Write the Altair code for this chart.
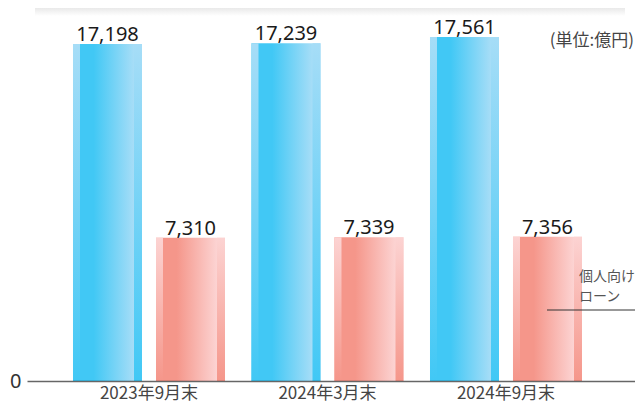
import altair as alt
import pandas as pd

periods = ["2023年9月末", "2024年3月末", "2024年9月末"]
total_values = [17198, 17239, 17561]
loan_values = [7310, 7339, 7356]
series_keys = ["total", "個人向けローン"]
annotation_lines = ["個人向け", "ローン"]
unit_text = "(単位:億円)"

rows = []
for p, t, l in zip(periods, total_values, loan_values):
    rows.append({"period": p, "series": series_keys[0], "value": t})
    rows.append({"period": p, "series": series_keys[1], "value": l})
df = pd.DataFrame(rows)
df["label"] = df["value"].map(lambda v: f"{v:,}")

BLUE, BLUE_L = "#41c8f5", "#a6ddf7"
PINK, PINK_L = "#f5968a", "#fcd3d2"


def hgrad(base, light):
    return alt.Gradient(gradient="linear", x1=0, y1=0, x2=1, y2=0, stops=[
        alt.GradientStop(offset=0, color=base),
        alt.GradientStop(offset=0.3, color=base),
        alt.GradientStop(offset=0.88, color=light),
        alt.GradientStop(offset=1, color=light)])


def vgrad(base, light):
    return alt.Gradient(gradient="linear", x1=0, y1=0, x2=0, y2=1, stops=[
        alt.GradientStop(offset=0, color=light),
        alt.GradientStop(offset=1, color=base)])


x_enc = alt.X("period:N", sort=periods, title=None,
              scale=alt.Scale(paddingInner=0, paddingOuter=0.2031, align=0.4517),
              axis=alt.Axis(labelAngle=0, ticks=False, labelPadding=4, labelFontSize=17,
                            labelBaseline="top",
                            labelFont="Noto Sans CJK JP", labelColor="#444",
                            domainColor="black", domainOpacity=0.6, domainWidth=1.6, zindex=1))
y_enc = alt.Y("value:Q", title=None, scale=alt.Scale(domain=[0, 19037], nice=False),
              axis=alt.Axis(values=[0], domain=False, ticks=False, grid=False,
                            labelFontSize=20, labelFont="Noto Sans", labelColor="#333",
                            labelPadding=6))

base = alt.Chart(df)
layers = []
for key, sign, col, light in [(series_keys[0], -1, BLUE, BLUE_L), (series_keys[1], 1, PINK, PINK_L)]:
    off = sign * 41.5
    b = base.transform_filter(alt.datum.series == key)
    layers.append(b.mark_bar(width=69, xOffset=off, color=hgrad(col, light)).encode(x=x_enc, y=y_enc))
    layers.append(b.mark_bar(width=7, xOffset=off - 31, color=vgrad(col, light)).encode(x=x_enc, y=y_enc))
    layers.append(b.mark_bar(width=8, xOffset=off + 30.5, color=vgrad(col, light)).encode(x=x_enc, y=y_enc))
    layers.append(b.mark_text(xOffset=off, dy=-3, baseline="alphabetic", fontSize=20,
                              font="Noto Sans", color="#1a1a1a").encode(x=x_enc, y=y_enc, text="label:N"))

annot = alt.Chart(pd.DataFrame({"k": [0]}))
shadow = annot.mark_rect(color=alt.Gradient(gradient="linear", x1=0, y1=0, x2=0, y2=1, stops=[
    alt.GradientStop(offset=0, color="#e9e9e9"), alt.GradientStop(offset=1, color="#ffffff")])).encode(
    x=alt.value(8), x2=alt.value(598), y=alt.value(0), y2=alt.value(8))
unit = annot.mark_text(align="right", baseline="middle", fontSize=17, font="Noto Sans CJK JP",
                       color="#444").encode(x=alt.value(607), y=alt.value(33), text=alt.value(unit_text))
legend_text = annot.mark_text(align="left", baseline="top", fontSize=14, lineHeight=20,
                              font="Noto Sans CJK JP", color="#555").encode(
    x=alt.value(552), y=alt.value(262), text=alt.value(annotation_lines))
legend_rule = annot.mark_rule(color="#333", strokeWidth=1).encode(
    x=alt.value(520), x2=alt.value(608), y=alt.value(302))

chart = alt.layer(shadow, *layers, unit, legend_text, legend_rule).properties(
    width=608, height=373,
    autosize=alt.AutoSizeParams(type="none"),
    padding={"left": 19, "top": 0, "right": 0, "bottom": 22},
    background="white",
).configure_view(stroke=None)

chart.save("out.html", embed_options={"renderer": "svg", "actions": False})
